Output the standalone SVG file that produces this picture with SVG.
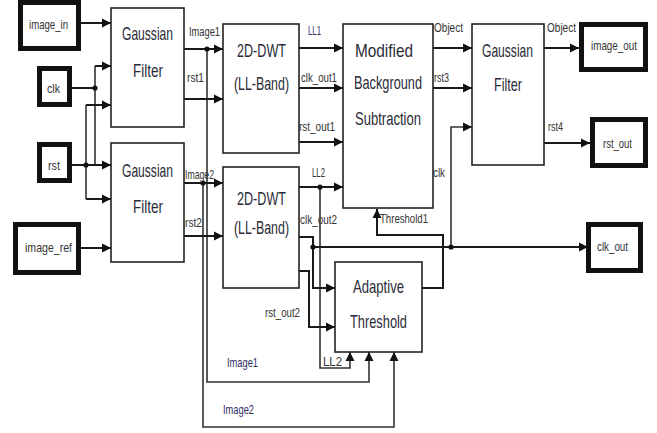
<svg xmlns="http://www.w3.org/2000/svg" width="657" height="433" viewBox="0 0 657 433">
<style>
.blk{fill:#fff;stroke:#222;stroke-width:1.6}
.io{fill:#fff;stroke:#111;stroke-width:5}
.t{font-family:"Liberation Sans",Arial,sans-serif;font-size:14px;fill:#2b2b38}
.s{font-family:"Liberation Sans",Arial,sans-serif;font-size:10px;fill:#333}
.nv{fill:#2e2e66}
.w{fill:none;stroke:#1a1a1a;stroke-width:2}
.v{fill:none;stroke:#333;stroke-width:1.6}
.a{marker-end:url(#ah)}
</style>
<defs>
<marker id="ah" markerUnits="userSpaceOnUse" markerWidth="10" markerHeight="10" refX="9" refY="5" orient="auto">
<path d="M0,0.5 L9,5 L0,9.5 z" fill="#111"/>
</marker>
</defs>
<rect width="657" height="433" fill="#fff"/>

<g id="connectors">
<path class="w a" d="M81,23 H111"/>
<path class="w" d="M72,88 H95"/>
<path class="v" d="M95,66 V165"/>
<path class="w a" d="M95,66 H111"/>
<path class="w a" d="M72,165 H111"/>
<path class="v" d="M86,105 V199"/>
<path class="w a" d="M86,105 H111"/>
<path class="w a" d="M86,199 H111"/>
<path class="w a" d="M81,248 H111"/>
<path class="w a" d="M184,49 H223"/>
<path class="v a" d="M207,49 V382 H369 V352"/>
<path class="w a" d="M184,99 H223"/>
<path class="w a" d="M184,183 H223"/>
<path class="v a" d="M203,183 V427 H394 V352"/>
<path class="w a" d="M184,236 H223"/>
<path class="w a" d="M299,48 H343"/>
<path class="w a" d="M299,88 H343"/>
<path class="w a" d="M299,142 H343"/>
<path class="w a" d="M299,187 H343"/>
<path class="v a" d="M320,187 V368 H350 V352"/>
<path class="w a" d="M299,237 H313 V288 H335"/>
<path class="w a" d="M313,247 H588"/>
<path class="w a" d="M299,271 H309 V327 H335"/>
<path class="w a" d="M422,288 H443 V235 H377 V209"/>
<path class="v a" d="M451,247 V127 H472"/>
<path class="w a" d="M433,48 H472"/>
<path class="w a" d="M433,88 H472"/>
<path class="w a" d="M544,48 H579"/>
<path class="w a" d="M544,143 H590"/>
<g fill="#111">
<circle cx="95" cy="88" r="2.6"/>
<circle cx="86" cy="165" r="2.6"/>
<circle cx="207" cy="49" r="2.6"/>
<circle cx="203" cy="183" r="2.6"/>
<circle cx="320" cy="187" r="2.6"/>
<circle cx="313" cy="247" r="2.6"/>
<circle cx="451" cy="247" r="2.6"/>
</g>
<g>
<text class="s" transform="translate(189,36) scale(1,1.25)" textLength="31" lengthAdjust="spacingAndGlyphs">Image1</text>
<text class="s" transform="translate(187,82) scale(1,1.25)" textLength="17" lengthAdjust="spacingAndGlyphs">rst1</text>
<text class="s" transform="translate(185,179) scale(1,1.25)" textLength="29" lengthAdjust="spacingAndGlyphs">Image2</text>
<text class="s" transform="translate(185,227) scale(1,1.25)" textLength="17" lengthAdjust="spacingAndGlyphs">rst2</text>
<text class="s nv" transform="translate(308,35) scale(1,1.25)" textLength="13" lengthAdjust="spacingAndGlyphs">LL1</text>
<text class="s" transform="translate(301,82) scale(1,1.25)" textLength="36" lengthAdjust="spacingAndGlyphs">clk_out1</text>
<text class="s" transform="translate(299,131) scale(1,1.25)" textLength="36" lengthAdjust="spacingAndGlyphs">rst_out1</text>
<text class="s" transform="translate(312,177) scale(1,1.25)" textLength="13" lengthAdjust="spacingAndGlyphs">LL2</text>
<text class="s" transform="translate(300,224) scale(1,1.25)" textLength="37" lengthAdjust="spacingAndGlyphs">clk_out2</text>
<text class="s" transform="translate(380,223) scale(1,1.25)" textLength="48" lengthAdjust="spacingAndGlyphs">Threshold1</text>
<text class="s" transform="translate(433,177) scale(1,1.25)" textLength="12" lengthAdjust="spacingAndGlyphs">clk</text>
<text class="s" transform="translate(434,32) scale(1,1.25)" textLength="29" lengthAdjust="spacingAndGlyphs">Object</text>
<text class="s" transform="translate(434,82) scale(1,1.25)" textLength="15" lengthAdjust="spacingAndGlyphs">rst3</text>
<text class="s" transform="translate(547,32) scale(1,1.25)" textLength="29" lengthAdjust="spacingAndGlyphs">Object</text>
<text class="s" transform="translate(548,131) scale(1,1.25)" textLength="15" lengthAdjust="spacingAndGlyphs">rst4</text>
<text class="s" transform="translate(265,317) scale(1,1.25)" textLength="35" lengthAdjust="spacingAndGlyphs">rst_out2</text>
<text class="s nv" transform="translate(227,367) scale(1,1.25)" textLength="31" lengthAdjust="spacingAndGlyphs">Image1</text>
<text class="s nv" transform="translate(223,414) scale(1,1.25)" textLength="31" lengthAdjust="spacingAndGlyphs">Image2</text>
<text class="s" transform="translate(323,366) scale(1,1.25)" textLength="19" lengthAdjust="spacingAndGlyphs">LL2</text>
</g>
</g>

<g id="image_in"><rect class="io" x="20.5" y="2.5" width="58" height="46"/><text class="s" transform="translate(29,29) scale(1,1.25)" textLength="39" lengthAdjust="spacingAndGlyphs">image_in</text></g>
<g id="clk"><rect class="io" x="39.5" y="68.5" width="30" height="36"/><text class="s" transform="translate(47,93) scale(1,1.25)" textLength="13" lengthAdjust="spacingAndGlyphs">clk</text></g>
<g id="rst"><rect class="io" x="39.5" y="144.5" width="30" height="36"/><text class="s" transform="translate(48,170) scale(1,1.25)" textLength="12" lengthAdjust="spacingAndGlyphs">rst</text></g>
<g id="image_ref"><rect class="io" x="15.5" y="224.5" width="63" height="48"/><text class="s" transform="translate(25,252) scale(1,1.25)" textLength="47" lengthAdjust="spacingAndGlyphs">image_ref</text></g>

<g id="gf1"><rect class="blk" x="111" y="8" width="73" height="119"/>
<text class="t" transform="translate(122,40) scale(1,1.25)" textLength="51" lengthAdjust="spacingAndGlyphs">Gaussian</text>
<text class="t" transform="translate(133,77) scale(1,1.25)" textLength="30" lengthAdjust="spacingAndGlyphs">Filter</text></g>
<g id="gf2"><rect class="blk" x="111" y="143" width="73" height="119"/>
<text class="t" transform="translate(122,177) scale(1,1.25)" textLength="51" lengthAdjust="spacingAndGlyphs">Gaussian</text>
<text class="t" transform="translate(133,213) scale(1,1.25)" textLength="30" lengthAdjust="spacingAndGlyphs">Filter</text></g>
<g id="dwt1"><rect class="blk" x="223" y="24" width="76" height="129"/>
<text class="t" transform="translate(237,57) scale(1,1.25)" textLength="49" lengthAdjust="spacingAndGlyphs">2D-DWT</text>
<text class="t" transform="translate(234,90) scale(1,1.25)" textLength="55" lengthAdjust="spacingAndGlyphs">(LL-Band)</text></g>
<g id="dwt2"><rect class="blk" x="223" y="167" width="76" height="121"/>
<text class="t" transform="translate(237,205) scale(1,1.25)" textLength="49" lengthAdjust="spacingAndGlyphs">2D-DWT</text>
<text class="t" transform="translate(234,234) scale(1,1.25)" textLength="55" lengthAdjust="spacingAndGlyphs">(LL-Band)</text></g>
<g id="mbs"><rect class="blk" x="343" y="24" width="90" height="184"/>
<text class="t" transform="translate(355,57) scale(1,1.25)" textLength="58" lengthAdjust="spacingAndGlyphs">Modified</text>
<text class="t" transform="translate(354,89) scale(1,1.25)" textLength="68" lengthAdjust="spacingAndGlyphs">Background</text>
<text class="t" transform="translate(355,125) scale(1,1.25)" textLength="66" lengthAdjust="spacingAndGlyphs">Subtraction</text></g>
<g id="gf3"><rect class="blk" x="472" y="24" width="72" height="141"/>
<text class="t" transform="translate(482,57) scale(1,1.25)" textLength="51" lengthAdjust="spacingAndGlyphs">Gaussian</text>
<text class="t" transform="translate(494,91) scale(1,1.25)" textLength="28" lengthAdjust="spacingAndGlyphs">Filter</text></g>
<g id="at"><rect class="blk" x="335" y="262" width="87" height="90"/>
<text class="t" transform="translate(353,293) scale(1,1.25)" textLength="51" lengthAdjust="spacingAndGlyphs">Adaptive</text>
<text class="t" transform="translate(350,328) scale(1,1.25)" textLength="57" lengthAdjust="spacingAndGlyphs">Threshold</text></g>

<g id="image_out"><rect class="io" x="581.5" y="24.5" width="64" height="45"/><text class="s" transform="translate(591,50) scale(1,1.25)" textLength="46" lengthAdjust="spacingAndGlyphs">image_out</text></g>
<g id="rst_out"><rect class="io" x="592.5" y="119.5" width="53" height="46"/><text class="s" transform="translate(603,148) scale(1,1.25)" textLength="29" lengthAdjust="spacingAndGlyphs">rst_out</text></g>
<g id="clk_out"><rect class="io" x="588.5" y="224.5" width="52" height="46"/><text class="s" transform="translate(597,251) scale(1,1.25)" textLength="31" lengthAdjust="spacingAndGlyphs">clk_out</text></g>
</svg>
